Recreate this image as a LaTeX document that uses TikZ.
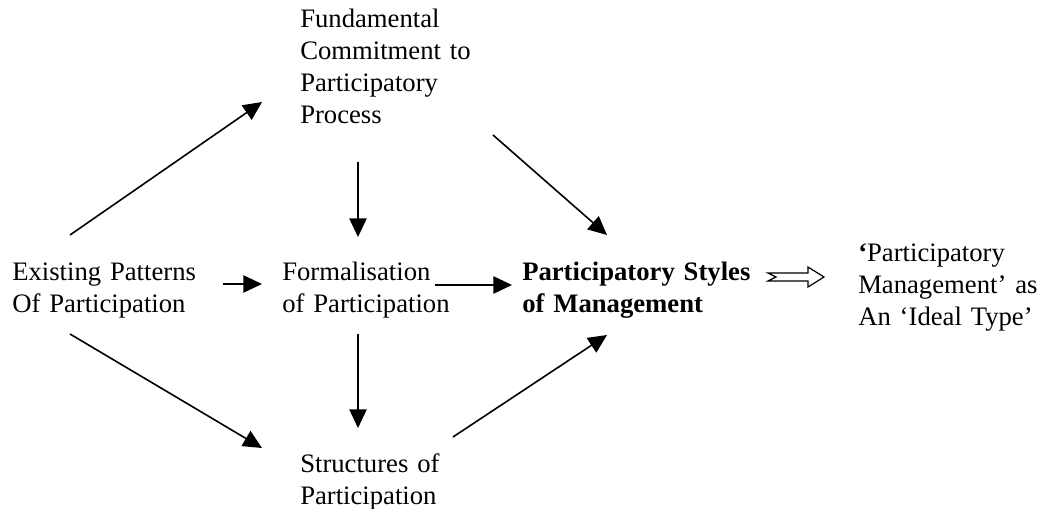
\documentclass[tikz,border=0pt]{standalone}
\usepackage{fontspec}
\setmainfont{Liberation Serif}
\usetikzlibrary{arrows.meta,calc}

\begin{document}
\begin{tikzpicture}[x=0.75pt,y=-0.75pt,
		box/.style={anchor=base west,inner sep=0pt,align=left,text width=#1,
			font=\fontsize{20}{24}\selectfont},
		box/.default=160pt,
		arr/.style={line width=1.2pt,-{Triangle[length=14pt,width=13pt]}},
		hollow/.style={line width=0.9pt,line join=miter,fill=white}]
		        \useasboundingbox (0,0) rectangle (1042,509);

		        \node[box] (exist) at (12,281) {Existing Patterns\\Of Participation};
		        \node[box] (fund) at (300,28) {Fundamental\\Commitment to\\Participatory\\Process};
		        \node[box] (formal) at (282,281) {Formalisation\\of Participation};
		        \node[box=230pt,font=\fontsize{20}{24}\selectfont\bfseries] (styles) at (522,281) {Participatory Styles\\of Management};
		        \node[box=180pt] (ideal) at (858,262) {{\bfseries ‘}Participatory\\Management’ as\\An ‘Ideal Type’};
		        \node[box] (struct) at (300,472) {Structures of\\Participation};

		        \draw[arr] ($(exist.base west)+(58,-46)$) -- ($(fund.base west)+(-38,74)$);
		        \draw[arr] ($(fund.base west)+(58,134)$) -- ($(formal.base west)+(76,-44)$);
		        \draw[arr] ($(fund.base west)+(193,107)$) -- ($(styles.base west)+(85,-46)$);
		        \draw[arr] ($(exist.base west)+(211,3)$) -- ($(formal.base west)+(-20,3)$);
		        \draw[arr] ($(formal.base west)+(153,4)$) -- ($(styles.base west)+(-10,4)$);
		        \draw[arr] ($(formal.base west)+(76,53)$) -- ($(struct.base west)+(58,-44)$);
		        \draw[arr] ($(exist.base west)+(58,53)$) -- ($(struct.base west)+(-38,-24)$);
		        \draw[arr] ($(struct.base west)+(153,-35)$) -- ($(styles.base west)+(85,54)$);

		        \coordinate (imp-a) at ($(styles.base west)+(246,-4)$);
		        \coordinate (imp-b) at ($(ideal.base west)+(-34,15)$);
		        \draw[hollow] ($(imp-a)+(0,-4)$) -- ($(imp-b)+(-16,-4)$) -- ($(imp-b)+(-16,-10)$)
		                -- (imp-b) -- ($(imp-b)+(-16,10)$) -- ($(imp-b)+(-16,4)$)
		                -- ($(imp-a)+(0,4)$) -- ($(imp-a)+(8,0)$) -- cycle;

	    	\end{tikzpicture}
\end{document}
